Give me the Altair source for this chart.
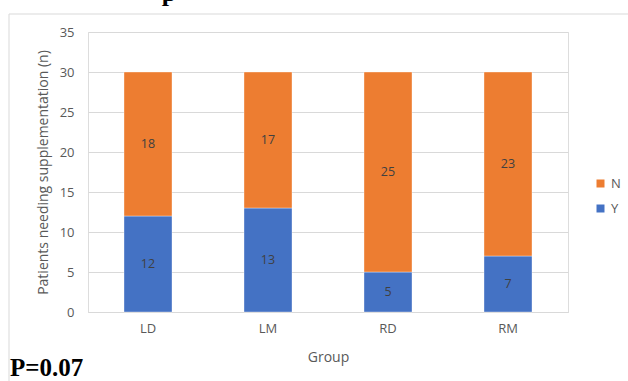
import altair as alt
import pandas as pd

groups = ["LD", "LM", "RD", "RM"]
y_vals = [12, 13, 5, 7]
n_vals = [18, 17, 25, 23]
y_ticks = [0, 5, 10, 15, 20, 25, 30, 35]

rows = []
for g, yv, nv in zip(groups, y_vals, n_vals):
    rows.append({"Group": g, "Answer": "Y", "Count": yv, "ord": 0})
    rows.append({"Group": g, "Answer": "N", "Count": nv, "ord": 1})
df = pd.DataFrame(rows)

FONT = "Open Sans"
GRAY = "#595959"

base = alt.Chart(df).transform_stack(
    stack="Count", groupby=["Group"], as_=["lo", "hi"], sort=[alt.SortField("ord")]
).transform_calculate(mid="(datum.lo + datum.hi) / 2")

xaxis = alt.Axis(title="Group", labelAngle=0, labelPadding=10, ticks=False,
                 domainColor="#d9d9d9", labelColor=GRAY, titleColor=GRAY,
                 labelFont=FONT, titleFont=FONT, labelFontSize=13, titleFontSize=14,
                 titleFontWeight="normal", titlePadding=15)
yaxis = alt.Axis(title="Patients needing supplementation (n)", values=y_ticks, tickCount=8,
                 labelOverlap=False, domain=False, ticks=False, labelPadding=14,
                 gridColor="#d9d9d9", labelColor=GRAY, titleColor=GRAY,
                 labelFont=FONT, titleFont=FONT, labelFontSize=13, titleFontSize=14,
                 titleFontWeight="normal", titlePadding=9)
xscale = alt.Scale(paddingInner=0.6, paddingOuter=0.3)
yscale = alt.Scale(domain=[0, 35])

bars = base.mark_bar(stroke="#ffffff", strokeWidth=0.6, strokeOpacity=0.6).encode(
    x=alt.X("Group:N", sort=groups, scale=xscale, axis=xaxis),
    y=alt.Y("lo:Q", scale=yscale, axis=yaxis),
    y2="hi:Q",
    color=alt.Color("Answer:N", scale=alt.Scale(domain=["N", "Y"], range=["#ED7D31", "#4472C4"]),
                    legend=alt.Legend(title=None, orient="none", legendX=506, legendY=145,
                                      symbolType="square", symbolSize=64, symbolStrokeWidth=0,
                                      labelColor=GRAY, labelFont=FONT, labelFontSize=13,
                                      rowPadding=11)),
)

labels = base.mark_text(font=FONT, fontSize=12.5, color="#404040").encode(
    x=alt.X("Group:N", sort=groups, scale=xscale, axis=xaxis),
    y=alt.Y("mid:Q", scale=yscale, axis=yaxis),
    text="Count:Q",
)

ann = alt.Chart(pd.DataFrame({"t": ["P=0.07"]})).mark_text(
    font="Liberation Serif", fontWeight="bold", fontSize=25, align="left", baseline="alphabetic", color="#000000"
).encode(x=alt.value(-78), y=alt.value(344), text="t:N")

top_p = alt.Chart(pd.DataFrame({"t": ["p"]})).mark_text(
    font="Liberation Serif", fontWeight="bold", fontSize=26, align="center", baseline="alphabetic", color="#000000"
).encode(x=alt.value(81), y=alt.value(-31), text="t:N")

frame_top = alt.Chart(pd.DataFrame({"a": [0]})).mark_rule(color="#d9d9d9", strokeWidth=1).encode(
    x=alt.value(-79), x2=alt.value(560), y=alt.value(-18))
frame_left = alt.Chart(pd.DataFrame({"a": [0]})).mark_rule(color="#d9d9d9", strokeWidth=1).encode(
    x=alt.value(-79), y=alt.value(-18), y2=alt.value(360))

chart = alt.layer(frame_top, frame_left, bars, labels, ann, top_p).properties(
    width=480, height=280,
    autosize=alt.AutoSizeParams(type="none"),
    padding={"left": 88, "top": 32, "right": 60, "bottom": 69},
).configure_view(stroke=None).configure(background="white")

chart.save("out.html", embed_options={"renderer": "svg", "actions": False})
